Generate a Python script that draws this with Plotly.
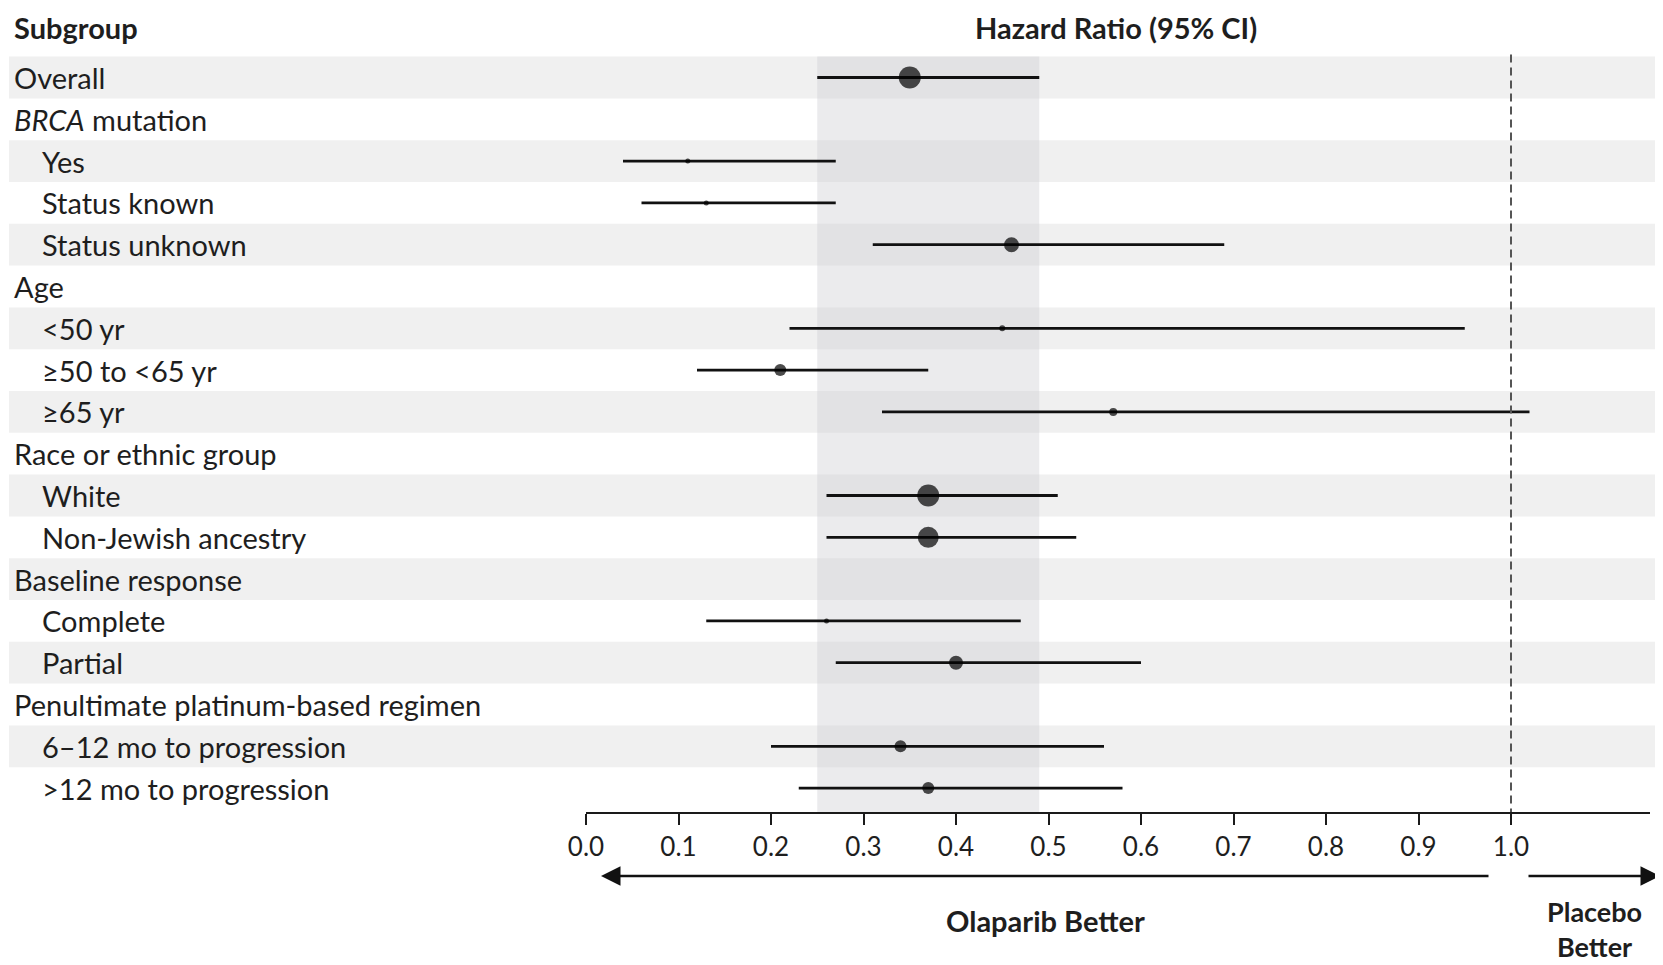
import plotly.graph_objects as go

# ---------------- data ----------------
subgroups = ["Overall", "<i>BRCA</i> mutation", "Yes", "Status known", "Status unknown",
             "Age", "<50 yr", "≥50 to <65 yr", "≥65 yr",
             "Race or ethnic group", "White", "Non-Jewish ancestry",
             "Baseline response", "Complete", "Partial",
             "Penultimate platinum-based regimen", "6–12 mo to progression", ">12 mo to progression"]
indent = [0, 0, 1, 1, 1, 0, 1, 1, 1, 0, 1, 1, 0, 1, 1, 0, 1, 1]
hr = [0.35, None, 0.11, 0.13, 0.46, None, 0.45, 0.21, 0.57, None, 0.37, 0.37, None, 0.26, 0.40, None, 0.34, 0.37]
ci_lo = [0.25, None, 0.04, 0.06, 0.31, None, 0.22, 0.12, 0.32, None, 0.26, 0.26, None, 0.13, 0.27, None, 0.20, 0.23]
ci_hi = [0.49, None, 0.27, 0.27, 0.69, None, 0.95, 0.37, 1.02, None, 0.51, 0.53, None, 0.47, 0.60, None, 0.56, 0.58]
tick_vals = [0.0, 0.1, 0.2, 0.3, 0.4, 0.5, 0.6, 0.7, 0.8, 0.9, 1.0]
tick_text = ["0.0", "0.1", "0.2", "0.3", "0.4", "0.5", "0.6", "0.7", "0.8", "0.9", "1.0"]

# marker diameter in px (style)
marker_px = [22, 0, 5, 5, 15, 0, 6, 12, 8, 0, 22, 21, 0, 5, 14, 0, 12, 12]

# ---------------- layout geometry ----------------
OFF = 8                            # page body margin
W, H = 1663 - OFF, 965 - OFF
X0_PX, UNIT_PX = 586 - OFF, 925    # x=0 pixel and pixels per unit
ROW0_PX, ROW_PX = 77.5 - OFF, 41.8 # first row centre and row spacing
AXIS_PX = 813 - OFF                # axis line pixel
x_min = -X0_PX / UNIT_PX
x_max = x_min + W / UNIT_PX
y_top = -ROW0_PX / ROW_PX
y_bot = (AXIS_PX - ROW0_PX) / ROW_PX


def xd(p):
    """full-image pixel -> x data"""
    return (p - OFF - X0_PX) / UNIT_PX


def yp(p):
    """full-image pixel -> paper y"""
    return (AXIS_PX - (p - OFF)) / AXIS_PX


FONT = "Lato"
TXT = "#1e1e1e"
FS = 29

fig = go.Figure()

# CI lines
lx, ly = [], []
for i, (lo, hi) in enumerate(zip(ci_lo, ci_hi)):
    if lo is None:
        continue
    lx += [lo, hi, None]
    ly += [i, i, None]
fig.add_trace(go.Scatter(x=lx, y=ly, mode="lines", line=dict(color="#111", width=2.8),
                         hoverinfo="skip", showlegend=False))

# point estimates
px_, py_, ps_ = [], [], []
for i, v in enumerate(hr):
    if v is None:
        continue
    px_.append(v); py_.append(i); ps_.append(marker_px[i])
fig.add_trace(go.Scatter(x=px_, y=py_, mode="markers",
                         marker=dict(color="#000", size=ps_, line=dict(width=0)),
                         showlegend=False))

shapes = []
# alternating stripes
for i in range(len(subgroups)):
    if i % 2 == 0:
        shapes.append(dict(type="rect", xref="paper", yref="y", x0=(9 - OFF) / W, x1=1,
                           y0=i - 0.5, y1=i + 0.5, fillcolor="#f0f0f0",
                           line=dict(width=0), layer="below"))
# overall CI band
shapes.append(dict(type="rect", xref="x", yref="y", x0=ci_lo[0], x1=ci_hi[0],
                   y0=-0.5, y1=y_bot, fillcolor="rgba(205,206,209,0.4)",
                   line=dict(width=0), layer="below"))
# line of no effect
shapes.append(dict(type="line", xref="x", yref="y", x0=1.0, x1=1.0, y0=-0.55, y1=y_bot,
                   line=dict(color="#555", width=2, dash="8px,5px")))
# axis line
shapes.append(dict(type="line", xref="x", yref="paper", x0=0, x1=xd(1650),
                   y0=0, y1=0, line=dict(color="#1a1a1a", width=2.2)))

annotations = []
for i, (lab, lev) in enumerate(zip(subgroups, indent)):
    annotations.append(dict(text=lab, xref="paper", yref="y",
                            x=((12 if lev == 0 else 40) - OFF) / W,
                            y=i, xanchor="left", yanchor="middle", showarrow=False,
                            font=dict(family=FONT, size=FS, color=TXT)))
# headers
annotations.append(dict(text="<b>Subgroup</b>", xref="paper", yref="paper", x=(12 - OFF) / W,
                        y=yp(27), xanchor="left", yanchor="middle", showarrow=False,
                        font=dict(family=FONT, size=FS, color=TXT)))
annotations.append(dict(text="<b>Hazard Ratio (95% CI)</b>", xref="x", yref="paper",
                        x=xd(1116), y=yp(27),
                        xanchor="center", yanchor="middle", showarrow=False,
                        font=dict(family=FONT, size=FS, color=TXT)))

# arrows
annotations.append(dict(text="", xref="x", yref="paper", x=xd(601), y=yp(876),
                        axref="x", ayref="pixel", ax=xd(1490), ay=0,
                        showarrow=True, arrowhead=2, arrowsize=1.5, arrowwidth=2.6,
                        arrowcolor="#111"))
annotations.append(dict(text="", xref="x", yref="paper", x=xd(1660), y=yp(876),
                        axref="x", ayref="pixel", ax=xd(1527), ay=0,
                        showarrow=True, arrowhead=2, arrowsize=1.5, arrowwidth=2.6,
                        arrowcolor="#111"))
annotations.append(dict(text="<b>Olaparib Better</b>", xref="x", yref="paper",
                        x=xd(1045), y=yp(920), xanchor="center", yanchor="middle",
                        showarrow=False, font=dict(family=FONT, size=FS, color=TXT)))
annotations.append(dict(text="<b>Placebo<br>Better</b>", xref="x", yref="paper",
                        x=xd(1594), y=yp(964), xanchor="center", yanchor="bottom",
                        borderpad=0, showarrow=False,
                        font=dict(family=FONT, size=27, color=TXT)))

fig.update_layout(
    width=W, height=H,
    margin=dict(l=0, r=0, t=0, b=H - AXIS_PX, pad=0),
    paper_bgcolor="white", plot_bgcolor="white",
    showlegend=False,
    shapes=shapes, annotations=annotations,
    xaxis=dict(range=[x_min, x_max], tickvals=tick_vals, ticktext=tick_text,
               ticks="outside", ticklen=11, tickwidth=2, tickcolor="#1a1a1a",
               showline=False, showgrid=False, zeroline=False,
               tickfont=dict(family=FONT, size=26, color=TXT), fixedrange=True),
    yaxis=dict(range=[y_bot, y_top], showticklabels=False, showgrid=False,
               zeroline=False, showline=False, ticks="", fixedrange=True),
)

fig.write_html("out.html")
